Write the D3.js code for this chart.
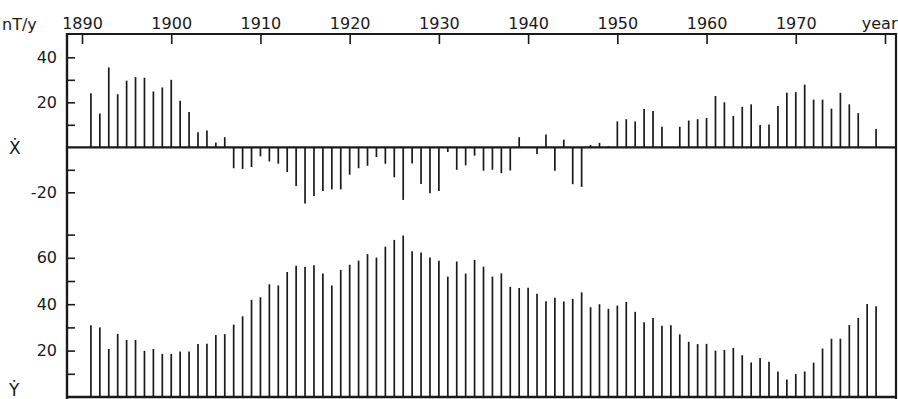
<!DOCTYPE html>
<html>
<head>
<meta charset="utf-8">
<script src="https://cdn.jsdelivr.net/npm/d3@7"></script>
<style>
  html, body { margin: 0; padding: 0; background: #fff; }
  svg { display: block; }
  text { font-family: "DejaVu Sans", sans-serif; fill: #1a1a1a; }
</style>
</head>
<body>
<svg id="chart" width="898" height="399"></svg>
<script>
// ---- data ----
const years = d3.range(1891, 1980);
const xDot = [
  24, 15, 35.5, 23.6, 29.6, 31.2, 30.9, 24.8, 26.6, 30,        // 1891-1900
  20.7, 15.7, 6.7, 7.5, 2.1, 4.5, -9.3, -9.6, -8.8, -4,       // 1901-1910
  -6.3, -7.3, -11, -17.2, -25, -21.6, -19.4, -18.7, -18.7, -12.2, // 1911-1920
  -9.3, -8.2, -4.3, -7.3, -13.3, -23.4, -7.2, -16.3, -20.4, -19.4, // 1921-1930
  -2.1, -10, -8, -3.7, -10.4, -10, -11.5, -10.3, 4.5, 0,      // 1931-1940
  -3, 5.7, -10.4, 3.4, -16.4, -17.6, 1, 2, 0.5, 11.5,         // 1941-1950
  12.5, 11.5, 17, 16.1, 9.1, 0, 9.1, 11.9, 12.5, 13,          // 1951-1960
  22.8, 20, 14, 18, 19.1, 9.9, 10.1, 18.4, 24.2, 24.5,        // 1961-1970
  27.9, 21.2, 21.2, 17.2, 24.2, 19.1, 15.2, 0, 8.1            // 1971-1979
];
const yDot = [
  30.9, 30, 20.7, 27.2, 24.6, 24.6, 19.9, 20.7, 18.6, 18.6,   // 1891-1900
  19.6, 19.6, 22.8, 22.9, 26.7, 27.1, 31.2, 34.8, 41.9, 43,   // 1901-1910
  48.6, 48.1, 53.9, 56.6, 56, 56.8, 53.2, 48.1, 54.8, 57,     // 1911-1920
  58.8, 61.6, 60.1, 64.8, 67.7, 69.6, 62.8, 62.3, 60.1, 58.7, // 1921-1930
  51.9, 58.4, 53.2, 59.1, 56.2, 51.9, 53.3, 47.5, 47, 47.1,   // 1931-1940
  44.5, 41.3, 42.8, 41.2, 42.3, 45.1, 38.7, 40, 38, 39.4,     // 1941-1950
  41, 36.7, 32.2, 34.1, 30.7, 30.9, 27, 23.8, 22.8, 22.9,     // 1951-1960
  20, 20.3, 21.2, 18, 14.9, 16.8, 15.2, 11, 7.5, 9.9,         // 1961-1970
  11, 14.8, 20.9, 25.1, 25.1, 31, 34.1, 40.1, 39.1            // 1971-1979
];
const yearTicks = [1890, 1900, 1910, 1920, 1930, 1940, 1950, 1960, 1970, 1980];
const yearTickLabels = ["1890", "1900", "1910", "1920", "1930", "1940", "1950", "1960", "1970", "year"];
const xDotTicks = [-20, -10, 10, 20, 30, 40];
const xDotLabels = ["-20", "", "", "20", "", "40"];
const yDotTicks = [10, 20, 30, 40, 50, 60, 70];
const yDotLabels = ["", "20", "", "40", "", "60", ""];
const unitLabel = "nT/y";
const xPanelLabel = "\u1E8A";
const yPanelLabel = "\u1E8E";

// ---- layout ----
const svg = d3.select("#chart");
const ink = "#1a1a1a";
const frameL = 67, frameR = 896, frameT = 34, frameB = 397;
const fs = 16;

const x = d3.scaleLinear().domain([1890, 1980]).range([82, 885]);
const yX = d3.scaleLinear().domain([-20, 40]).range([192.3, 57.3]);
const yY = d3.scaleLinear().domain([0, 70]).range([frameB, 234.6]);

// top axis (years)
const topAxis = d3.axisTop(x)
  .tickValues(yearTicks)
  .tickFormat((d, i) => yearTickLabels[i])
  .tickSizeInner(-10).tickSizeOuter(0).tickPadding(5);
const gTop = svg.append("g").attr("transform", `translate(0,${frameT})`).call(topAxis);
gTop.select(".domain").remove();
gTop.selectAll(".tick line").attr("stroke", ink).attr("stroke-width", 1.6);
gTop.selectAll(".tick text").attr("font-size", fs).attr("fill", ink)
  .attr("font-family", "DejaVu Sans, sans-serif");
// last label ("year") sits flush against the right edge
gTop.selectAll(".tick text").filter(d => d === 1980)
  .attr("text-anchor", "end").attr("x", 897 - x(1980));

// left axes
function leftAxis(scale, vals, labels) {
  const ax = d3.axisLeft(scale).tickValues(vals)
    .tickFormat((d, i) => labels[i])
    .tickSizeInner(-8).tickSizeOuter(0).tickPadding(10);
  const g = svg.append("g").attr("transform", `translate(${frameL},0)`).call(ax);
  g.select(".domain").remove();
  g.selectAll(".tick line").attr("stroke", ink).attr("stroke-width", 1.6);
  g.selectAll(".tick text").attr("font-size", fs).attr("fill", ink)
    .attr("font-family", "DejaVu Sans, sans-serif");
}
leftAxis(yX, xDotTicks, xDotLabels);
leftAxis(yY, yDotTicks, yDotLabels);

// frame lines
svg.append("line").attr("x1", frameL).attr("x2", frameR).attr("y1", frameT).attr("y2", frameT)
  .attr("stroke", ink).attr("stroke-width", 2.2);
svg.append("line").attr("x1", frameL).attr("x2", frameL).attr("y1", frameT - 1).attr("y2", 399)
  .attr("stroke", ink).attr("stroke-width", 2.4);
svg.append("line").attr("x1", frameR).attr("x2", frameR).attr("y1", frameT - 1).attr("y2", 399)
  .attr("stroke", ink).attr("stroke-width", 2.2);
svg.append("line").attr("x1", frameL).attr("x2", frameR).attr("y1", yX(0)).attr("y2", yX(0))
  .attr("stroke", ink).attr("stroke-width", 2.2);
svg.append("line").attr("x1", frameL).attr("x2", frameR).attr("y1", frameB).attr("y2", frameB)
  .attr("stroke", ink).attr("stroke-width", 2.4);

// X-dot bars
svg.append("g").selectAll("line").data(years.map((yr, i) => ({yr, v: xDot[i]})))
  .join("line")
  .attr("x1", d => x(d.yr)).attr("x2", d => x(d.yr))
  .attr("y1", yX(0)).attr("y2", d => yX(d.v))
  .attr("stroke", ink).attr("stroke-width", 1.7);

// Y-dot bars
svg.append("g").selectAll("line").data(years.map((yr, i) => ({yr, v: yDot[i]})))
  .join("line")
  .attr("x1", d => x(d.yr)).attr("x2", d => x(d.yr))
  .attr("y1", yY(0)).attr("y2", d => yY(d.v))
  .attr("stroke", ink).attr("stroke-width", 1.7);

// labels
svg.append("text").attr("x", 2).attr("y", 30).attr("font-size", fs).text(unitLabel);
svg.append("text").attr("x", 9).attr("y", 154).attr("font-size", 17).text(xPanelLabel);
svg.append("text").attr("x", 9).attr("y", 396).attr("font-size", 17).text(yPanelLabel);
</script>
</body>
</html>
